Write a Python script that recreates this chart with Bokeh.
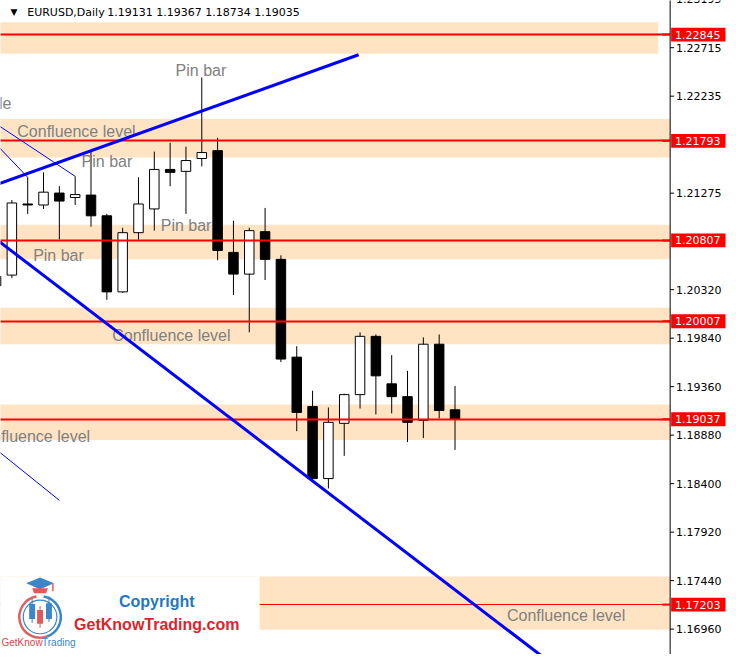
import numpy as np
from bokeh.plotting import figure
from bokeh.models import ColumnDataSource, Range1d
from bokeh.core.properties import value
from bokeh.embed import file_html
from bokeh.resources import INLINE

# ---------------- data ----------------
symbol = "EURUSD,Daily"
last_ohlc = "1.19131 1.19367 1.18734 1.19035"

bar_index = list(range(-1, 29))
opens = [1.20454, 1.20464, 1.21168, 1.21158, 1.21276, 1.21232, 1.21256, 1.21051,
         1.20298, 1.20884, 1.21119, 1.21510, 1.21491, 1.21618, 1.21696, 1.20689,
         1.20474, 1.20894, 1.20620, 1.19652, 1.19164, 1.18450, 1.18997, 1.19281,
         1.19858, 1.19388, 1.19261, 1.19027, 1.19780, 1.19131]
highs = [1.20523, 1.21207, 1.21432, 1.21481, 1.21344, 1.21442, 1.21686, 1.21070,
         1.20933, 1.21432, 1.21686, 1.21774, 1.21735, 1.22420, 1.21823, 1.21002,
         1.20933, 1.21129, 1.20660, 1.19760, 1.19320, 1.19154, 1.19291, 1.19897,
         1.19877, 1.19672, 1.19516, 1.19848, 1.19877, 1.19367]
lows = [1.20327, 1.20435, 1.21070, 1.21119, 1.20816, 1.21158, 1.20943, 1.20220,
        1.20288, 1.20816, 1.20904, 1.21344, 1.21070, 1.21540, 1.20611, 1.20268,
        1.19897, 1.20415, 1.19603, 1.18919, 1.18430, 1.18352, 1.18675, 1.19144,
        1.19085, 1.19095, 1.18811, 1.18851, 1.19046, 1.18734]
closes = [1.20356, 1.21178, 1.21158, 1.21285, 1.21197, 1.21261, 1.21051, 1.20298,
          1.20884, 1.21168, 1.21510, 1.21481, 1.21598, 1.21677, 1.20708, 1.20474,
          1.20904, 1.20620, 1.19633, 1.19105, 1.18450, 1.19007, 1.19281, 1.19858,
          1.19467, 1.19261, 1.19007, 1.19780, 1.19124, 1.19035]

level_prices = [1.22845, 1.21793, 1.20807, 1.20007, 1.19037, 1.17203]
zone_tops = [1.22967, 1.22009, 1.20963, 1.20141, 1.19183, 1.17482]
zone_bottoms = [1.22654, 1.21628, 1.20620, 1.19780, 1.18831, 1.16954]

tick_values = [1.23195, 1.22715, 1.22235, 1.21275, 1.20320, 1.19840, 1.19360,
               1.18880, 1.18400, 1.17920, 1.17440, 1.16960]

up_line_x = [-2, 21.906]
up_line_y = [1.21301, 1.22645]
down_line_x = [-2, 36.78]
down_line_y = [1.20940, 1.16299]
thin_a_x = [-2, 4]
thin_a_y = [1.22065, 1.21442]
thin_b_x = [-2, 1]
thin_b_y = [1.21924, 1.21432]
thin_c_x = [-2, 3]
thin_c_y = [1.18866, 1.18235]

# ---------------- layout helpers (reference-pixel -> data) ----------------
REF_W, REF_H = 736, 662
PX_PER_BAR = 16.0
PX_PER_PRICE = 10227.0
X0 = -0.71875
TOP = 1.23182
AXIS_PX = 677


def X(px):
    return X0 + px / PX_PER_BAR


def P(py):
    return TOP - py / PX_PER_PRICE


HALF_BOX = 7 / PX_PER_PRICE

p = figure(width=728, height=654,
           x_range=Range1d(X(0), X(REF_W)),
           y_range=Range1d(P(REF_H), P(0)),
           x_axis_location=None, y_axis_location=None,
           toolbar_location=None, output_backend="svg",
           min_border=0)
p.outline_line_color = None
p.background_fill_color = "white"
p.border_fill_color = "white"
p.xgrid.visible = False
p.ygrid.visible = False

# zones
zone_right = [X(665)] + [X(AXIS_PX)] * (len(zone_tops) - 1)
p.quad(left=[X(-20)] * len(zone_tops), right=zone_right,
       top=zone_tops, bottom=zone_bottoms, fill_color="#FFE4C4", line_color=None)

# candles
o = np.array(opens)
c = np.array(closes)
src = ColumnDataSource(dict(
    x=bar_index, high=highs, low=lows,
    top=np.maximum(o, c), bottom=np.minimum(o, c),
    fill=["white" if cc > oo else "black" for oo, cc in zip(opens, closes)]))
p.segment(x0="x", y0="low", x1="x", y1="high", source=src,
          line_color="black", line_width=1)
p.vbar(x="x", width=0.6, top="top", bottom="bottom", source=src,
       fill_color="fill", line_color="black", line_width=1)

# horizontal levels
p.hspan(y=level_prices[:-1], line_color="#FF0000", line_width=2)
p.hspan(y=level_prices[-1:], line_color="#FF0000", line_width=1.2)

# annotation texts
notes = ColumnDataSource(dict(
    x=[X(177), X(82), X(162), X(33), X(17), X(113), X(-29), X(512)],
    y=[P(71), P(163), P(228), P(258), P(133), P(339), P(441), P(623)],
    text=["Pin bar", "Pin bar", "Pin bar", "Pin bar", "Confluence level",
          "Confluence level", "Confluence level", "Confluence level"]))
p.text(x="x", y="y", text="text", source=notes, text_color="#808080",
       text_font=value("Liberation Sans"), text_font_size="16px",
       text_baseline="middle", text_align="left")
p.text(x=[X(11)], y=[P(104)], text=["Triangle"], text_color="#808080",
       text_font=value("Liberation Sans"), text_font_size="16px",
       text_baseline="middle", text_align="right")

# trend lines
p.line(up_line_x, up_line_y, line_color="#0000FF", line_width=3)
p.line(down_line_x, down_line_y, line_color="#0000FF", line_width=3)
for lx, ly in [(thin_a_x, thin_a_y), (thin_b_x, thin_b_y), (thin_c_x, thin_c_y)]:
    p.line(lx, ly, line_color="#0000FF", line_width=1)

# header
p.text(x=[X(10)], y=[P(12)], text=["\u25BC"], text_color="black",
       text_font=value("DejaVu Sans"), text_font_size="9px",
       text_baseline="middle", text_align="left")
p.text(x=[X(27), X(108)], y=[P(12), P(12)], text=[symbol, last_ohlc],
       text_color="black", text_font=value("DejaVu Sans"),
       text_font_size="11px", text_baseline="middle", text_align="left")

# logo box
p.quad(left=[X(-10)], right=[X(262)], top=[P(583)], bottom=[P(720)],
       fill_color="white", line_color=None)
cx, cy = X(40), P(624)
p.arc(x=[cx], y=[cy], radius=21 / PX_PER_BAR, start_angle=np.deg2rad(100),
      end_angle=np.deg2rad(290), line_color="#E06060", line_width=2.5)
p.arc(x=[cx], y=[cy], radius=21 / PX_PER_BAR, start_angle=np.deg2rad(290),
      end_angle=np.deg2rad(80), line_color="#3A86C8", line_width=2.5)
p.circle(x=[cx], y=[cy], radius=17 / PX_PER_BAR, fill_color=None,
         line_color="#3A86C8", line_width=1.2)
p.segment(x0=[X(32), X(40), X(49)], y0=[P(605), P(613), P(603)],
          x1=[X(32), X(40), X(49)], y1=[P(630), P(635), P(629)],
          line_color=["#3A86C8", "#E05A5A", "#3A86C8"], line_width=1)
p.quad(left=[X(29), X(37), X(46)], right=[X(35), X(43), X(52)],
       top=[P(611), P(617), P(610)], bottom=[P(626), P(631), P(626)],
       fill_color=["#3A86C8", "#E05A5A", "#3A86C8"], line_color=None)
p.patch(x=[X(26), X(40), X(54), X(40)], y=[P(590), P(584), P(590), P(596)],
        fill_color="#3A86C8", line_color=None)
p.patch(x=[X(32), X(48), X(46), X(34)], y=[P(595), P(595), P(600), P(600)],
        fill_color="#E05A5A", line_color=None)
p.segment(x0=[X(53)], y0=[P(590)], x1=[X(53)], y1=[P(598)],
          line_color="#E05A5A", line_width=1.5)
p.text(x=[X(158)], y=[P(608)], text=["Copyright"], text_color="#1F78C0",
       text_font=value("Liberation Sans"), text_font_size="16px",
       text_font_style="bold", text_baseline="middle", text_align="center")
p.text(x=[X(158)], y=[P(632)], text=["GetKnowTrading.com"], text_color="#D8262E",
       text_font=value("Liberation Sans"), text_font_size="16px",
       text_font_style="bold", text_baseline="middle", text_align="center")
p.text(x=[X(1), X(42)], y=[P(650), P(650)], text=["GetKnow", "Trading"],
       text_color=["#D8464A", "#3A86C8"], text_font=value("Liberation Sans"),
       text_font_size="10px", text_baseline="middle", text_align="left")

# ---------------- price axis (right) ----------------
p.quad(left=[X(AXIS_PX)], right=[X(REF_W + 20)], top=[P(-20)], bottom=[P(REF_H + 20)],
       fill_color="white", line_color=None)
p.segment(x0=[X(AXIS_PX)], y0=[P(-20)], x1=[X(AXIS_PX)], y1=[P(REF_H + 20)],
          line_color="black", line_width=1)
p.segment(x0=[X(AXIS_PX)] * len(tick_values), y0=tick_values,
          x1=[X(AXIS_PX + 4)] * len(tick_values), y1=tick_values,
          line_color="black", line_width=1)
p.text(x=[X(AXIS_PX + 6)] * len(tick_values), y=tick_values,
       text=["%.5f" % t for t in tick_values], text_color="black",
       text_font=value("DejaVu Sans"), text_font_size="11px",
       text_baseline="middle", text_align="left")
# red price boxes for the levels
p.segment(x0=[X(AXIS_PX - 8)] * len(level_prices), y0=level_prices,
          x1=[X(AXIS_PX)] * len(level_prices), y1=level_prices,
          line_color="#FF0000", line_width=2)
p.quad(left=[X(AXIS_PX + 1)] * len(level_prices),
       right=[X(AXIS_PX + 56)] * len(level_prices),
       top=[lp + HALF_BOX for lp in level_prices],
       bottom=[lp - HALF_BOX for lp in level_prices],
       fill_color="#FF0000", line_color=None)
p.text(x=[X(AXIS_PX + 5)] * len(level_prices), y=level_prices,
       text=["%.5f" % lp for lp in level_prices], text_color="white",
       text_font=value("DejaVu Sans"), text_font_size="11px",
       text_baseline="middle", text_align="left")

open("out.html", "w").write(file_html(p, INLINE))
